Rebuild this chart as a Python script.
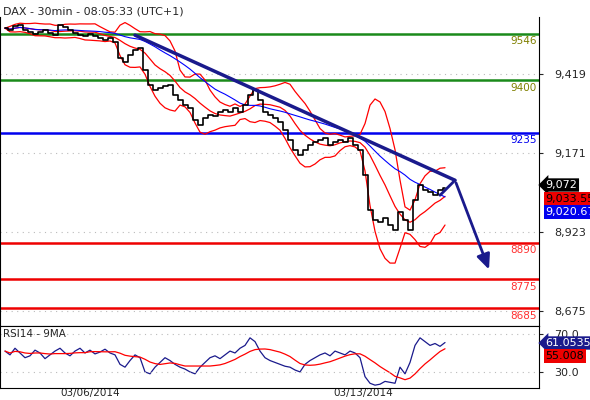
import numpy as np, pandas as pd, seaborn as sns, matplotlib
matplotlib.use("Agg")
import matplotlib.pyplot as plt

sns.set_style("white")
plt.rcParams['font.family'] = ['DejaVu Sans']

close = [9563,9557,9569,9572,9557,9551,9544,9551,9557,9547,9541,9572,9566,9557,9547,9541,9538,9544,9538,9532,
         9525,9532,9519,9469,9456,9478,9494,9500,9431,9384,9369,9375,9381,9384,9353,9337,9322,9312,9275,9259,
         9281,9290,9287,9300,9306,9300,9312,9300,9322,9353,9369,9337,9300,9290,9281,9268,9243,9212,9180,9165,
         9180,9196,9206,9212,9218,9196,9206,9212,9206,9218,9196,9180,9102,8992,8961,8955,8967,8945,8930,8986,
         8961,8930,9024,9071,9055,9049,9039,9055,9061]
rsi_vals = [52,48,55,50,45,47,53,50,44,48,52,55,
            50,47,52,55,50,53,49,51,54,50,48,38,
            35,42,48,45,30,28,35,40,45,42,38,35,
            33,30,28,35,40,45,47,44,48,52,50,55,
            58,66,62,52,45,42,40,38,36,35,32,30,
            38,42,45,48,50,47,52,50,48,52,50,45,
            25,18,16,17,20,19,18,35,28,
            40,58,66,62,58,60,57,61.05]
levels = [9546, 9400, 9235, 8890, 8775, 8685]
level_colors = ['#1a8a1a', '#1a8a1a', '#0000ee', '#ee0000', '#ee0000', '#ee0000']
label_colors = ['#808000', '#808000', '#0000ee', '#ff3030', '#ff3030', '#ff3030']
yticks = [9419, 9171, 8923, 8675]
trend_x = [26, 90, 87]
trend_y = [9541, 9086, 9039]
arrow_end = (97, 8798)
date_pos = [11, 65.6]
date_labels = ['03/06/2014', '03/13/2014']
price_tags = ['9,072', '9,033.55', '9,020.67']
rsi_tags = ['61.0535', '55.008']

df = pd.DataFrame({'i': np.arange(len(close)), 'c': close, 'rsi': rsi_vals})
s = df['c']
mid = s.rolling(8, min_periods=1).mean()
sd = s.rolling(8, min_periods=2).std().fillna(0)
ma = s.rolling(20, min_periods=1).mean()
rsi_ma = df['rsi'].rolling(9, min_periods=1).mean()

fig = plt.figure(figsize=(5.9, 4), dpi=100)
ax = fig.add_axes([0, 0.185, 0.9136, 0.7725])
ax2 = fig.add_axes([0, 0.03, 0.9136, 0.155], sharex=ax)

for lv, c in zip(levels, level_colors):
    ax.axhline(lv, color=c, lw=1.8, zorder=2)
for lv, c in zip(levels, label_colors):
    ax.text(106.3, lv - 8, str(lv), color=c, fontsize=7.5, ha='right', va='top')
for t in yticks:
    ax.axhline(t, color='#bbbbbb', lw=0.8, ls=(0, (1, 4)), zorder=1)

ax.plot(df['i'], mid + 2*sd, color='red', lw=0.9)
ax.plot(df['i'], mid - 2*sd, color='red', lw=0.9)
ax.plot(df['i'], mid, color='red', lw=0.9)
ax.plot(df['i'], ma, color='blue', lw=0.8)
sns.lineplot(data=df, x='i', y='c', ax=ax, color='black', lw=1.2, drawstyle='steps-mid')

ax.plot(trend_x[:2], trend_y[:2], color='#1a1a8c', lw=2.5)
ax.plot([trend_x[1], trend_x[2]], [trend_y[1], trend_y[2]], color='#1a1a8c', lw=2)
ax.annotate('', xy=arrow_end, xytext=(trend_x[1], trend_y[1]),
            arrowprops=dict(arrowstyle='-|>,head_width=0.4,head_length=0.9', color='#1a1a8c', lw=2))

ax.set_xlim(-1, 106.8)
ax.set_ylim(8629, 9598)
ax.yaxis.tick_right()
ax.set_yticks(yticks)
ax.set_yticklabels([f'{t:,}' for t in yticks], fontsize=8)
ax.tick_params(axis='y', length=3, pad=8)
ax.tick_params(axis='x', bottom=False, labelbottom=False)
ax.set_xlabel(''); ax.set_ylabel('')
ax.text(0.005, 1.035, 'DAX - 30min - 08:05:33 (UTC+1)', transform=ax.transAxes, fontsize=8, va='top')

def tag(a, yfrac, txt, bg, fg='white', arrow=True):
    a.text(1.0 + 0.012, yfrac, txt, transform=a.transAxes, fontsize=8, color=fg, va='center', ha='left',
           clip_on=False, bbox=dict(boxstyle='larrow,pad=0.15' if arrow else 'square,pad=0.15', fc=bg, ec='none'))
tag(ax, 1 - (185 - 17) / 309, price_tags[0], 'black')
tag(ax, 1 - (199 - 17) / 309, price_tags[1], '#ee0000', 'black', False)
tag(ax, 1 - (212 - 17) / 309, price_tags[2], '#0000ee', 'white', False)

ax2.plot(df['i'], df['rsi'], color='#1a1a8c', lw=0.9)
ax2.plot(df['i'], rsi_ma, color='red', lw=0.9)
for t in [70, 30]:
    ax2.axhline(t, color='#bbbbbb', lw=0.8, ls=(0, (1, 4)))
ax2.set_ylim(13, 78.5)
ax2.yaxis.tick_right()
ax2.set_yticks([70, 30])
ax2.set_yticklabels(['70.0', '30.0'], fontsize=8)
ax2.tick_params(axis='y', length=3, pad=8)
ax2.set_xticks(date_pos)
ax2.set_xticklabels(date_labels, fontsize=7.5, ha='left')
ax2.tick_params(axis='x', length=4, pad=0, direction='in')
ax2.text(0.005, 0.95, 'RSI14 - 9MA', transform=ax2.transAxes, fontsize=7.5, va='top')
tag(ax2, 1 - (343 - 326) / 62, rsi_tags[0], '#1a1a8c')
tag(ax2, 1 - (356 - 326) / 62, rsi_tags[1], '#ee0000', 'black', False)
for a in (ax, ax2):
    for sp in a.spines.values():
        sp.set_color('black'); sp.set_linewidth(0.8)
    a.spines['top'].set_visible(a is ax2)
fig.savefig('out.png', dpi=100)
